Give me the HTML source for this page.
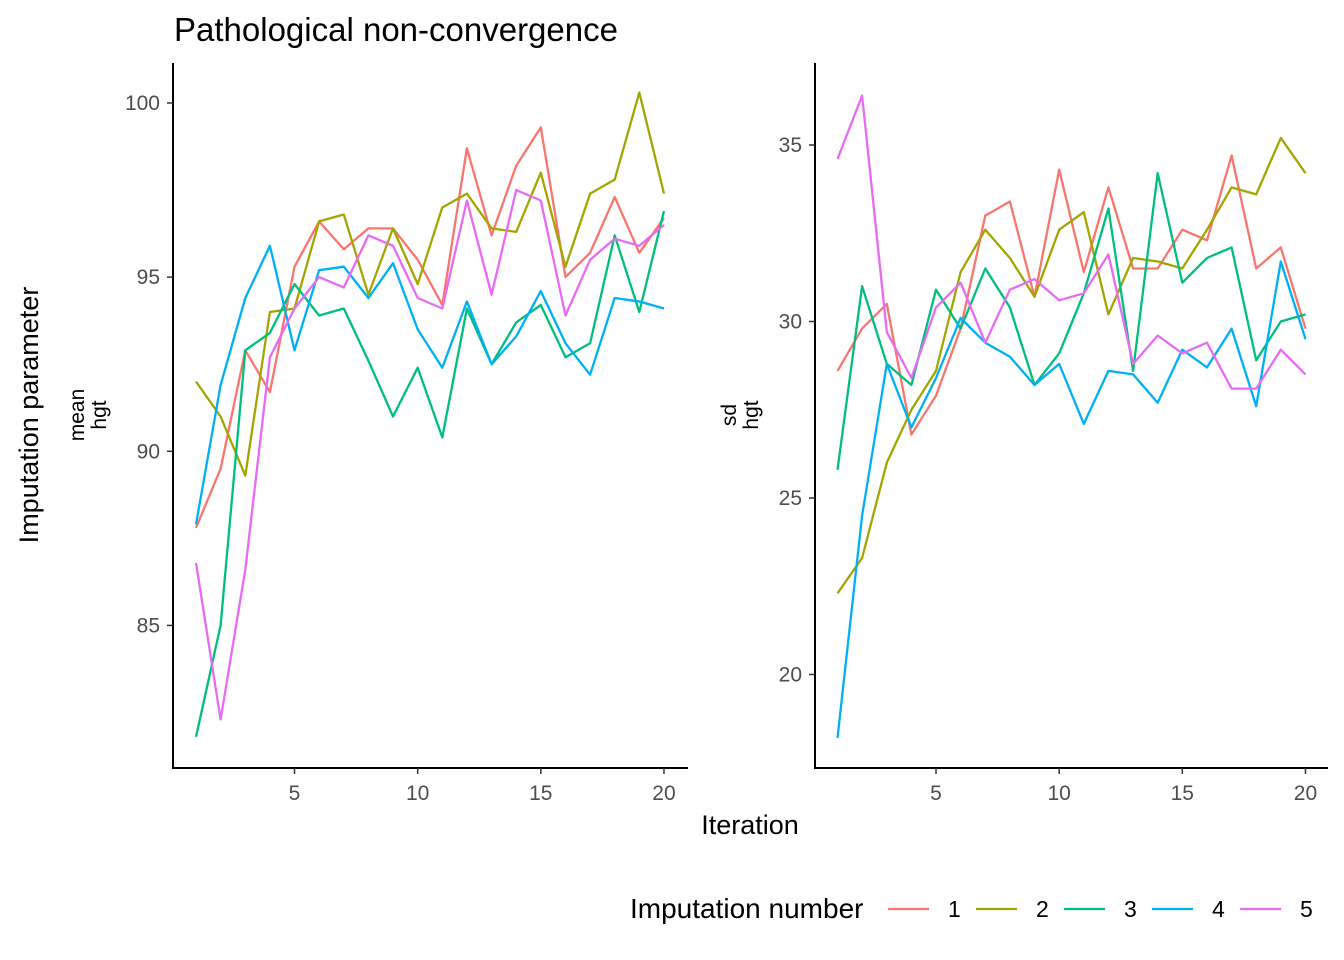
<!DOCTYPE html>
<html><head><meta charset="utf-8"><style>
body{margin:0;background:#fff;}
svg{display:block;font-family:"Liberation Sans",sans-serif;}
</style></head><body>
<svg id="chart" width="1344" height="960">
<text x="174" y="41" font-size="33" fill="#000">Pathological non-convergence</text>
<text transform="translate(38,415) rotate(-90)" text-anchor="middle" font-size="27" fill="#000">Imputation parameter</text>
<text x="750" y="834" text-anchor="middle" font-size="27" fill="#000">Iteration</text>
<g transform="translate(84,415) rotate(-90)"><text text-anchor="middle" font-size="21" y="0">mean</text><text text-anchor="middle" font-size="21" y="22">hgt</text></g>
<g transform="translate(736,415) rotate(-90)"><text text-anchor="middle" font-size="21" y="0">sd</text><text text-anchor="middle" font-size="21" y="22">hgt</text></g>
<g id="panels"></g>
<g id="legend">
<text x="630" y="918" font-size="28" fill="#000">Imputation number</text>
</g>
</svg>
<script>
const iterations=[1,2,3,4,5,6,7,8,9,10,11,12,13,14,15,16,17,18,19,20];
const seriesNames=["1","2","3","4","5"];
const colors=["#F8766D","#A3A500","#00BF7D","#00B0F6","#E76BF3"];
const mean1=[87.8,89.5,92.9,91.7,95.3,96.6,95.8,96.4,96.4,95.5,94.2,98.7,96.2,98.2,99.3,95.0,95.7,97.3,95.7,96.7];
const mean2=[92.0,91.0,89.3,94.0,94.1,96.6,96.8,94.5,96.4,94.8,97.0,97.4,96.4,96.3,98.0,95.3,97.4,97.8,100.3,97.4];
const mean3=[81.8,85.0,92.9,93.4,94.8,93.9,94.1,92.6,91.0,92.4,90.4,94.1,92.5,93.7,94.2,92.7,93.1,96.2,94.0,96.9];
const mean4=[87.9,91.9,94.4,95.9,92.9,95.2,95.3,94.4,95.4,93.5,92.4,94.3,92.5,93.3,94.6,93.1,92.2,94.4,94.3,94.1];
const mean5=[86.8,82.3,86.6,92.7,94.1,95.0,94.7,96.2,95.9,94.4,94.1,97.2,94.5,97.5,97.2,93.9,95.5,96.1,95.9,96.5];
const sd1=[28.6,29.8,30.5,26.8,27.9,29.8,33.0,33.4,30.7,34.3,31.4,33.8,31.5,31.5,32.6,32.3,34.7,31.5,32.1,29.8];
const sd2=[22.3,23.3,26.0,27.5,28.6,31.4,32.6,31.8,30.7,32.6,33.1,30.2,31.8,31.7,31.5,32.6,33.8,33.6,35.2,34.2];
const sd3=[25.8,31.0,28.8,28.2,30.9,29.8,31.5,30.4,28.2,29.1,30.8,33.2,28.6,34.2,31.1,31.8,32.1,28.9,30.0,30.2];
const sd4=[18.2,24.5,28.8,27.0,28.4,30.1,29.4,29.0,28.2,28.8,27.1,28.6,28.5,27.7,29.2,28.7,29.8,27.6,31.7,29.5];
const sd5=[34.6,36.4,29.7,28.4,30.4,31.1,29.4,30.9,31.2,30.6,30.8,31.9,28.8,29.6,29.1,29.4,28.1,28.1,29.2,28.5];
const meanTicks=[85,90,95,100];
const sdTicks=[20,25,30,35];
const xTicks=[5,10,15,20];

const NS="http://www.w3.org/2000/svg";
const root=document.getElementById('panels');
function mk(tag,attrs,parent){const e=document.createElementNS(NS,tag);for(const k in attrs)e.setAttribute(k,attrs[k]);parent.appendChild(e);return e;}

function panel(name,axisX,axisRight,x0,yRef,vRef,pxPerUnit,ticks,data){
  const g=mk('g',{},root);
  
  
  const xs=i=>x0+(i-1)*24.63;
  const ys=v=>yRef+(vRef-v)*pxPerUnit;
  const ya=mk('line',{x1:axisX,y1:63,x2:axisX,y2:768.5,stroke:'#000','stroke-width':2},g);
  
  
  const xa=mk('line',{x1:axisX-1,y1:768,x2:axisRight,y2:768,stroke:'#000','stroke-width':2},g);
  
  
  ticks.forEach(t=>{
    const y=ys(t);
    mk('line',{x1:axisX-6,y1:y,x2:axisX,y2:y,stroke:'#333','stroke-width':1.5},g);
    const tx=mk('text',{x:axisX-13,y:y+7,'text-anchor':'end','font-size':21,fill:'#4d4d4d'},g);
    tx.textContent=t;
    
    
  });
  xTicks.forEach(t=>{
    const x=xs(t);
    mk('line',{x1:x,y1:768,x2:x,y2:774,stroke:'#333','stroke-width':1.5},g);
    const tx=mk('text',{x:x,y:800,'text-anchor':'middle','font-size':21,fill:'#4d4d4d'},g);
    tx.textContent=t;
    
    
  });
  data.forEach((arr,k)=>{
    const pts=arr.map((v,i)=>xs(iterations[i]).toFixed(1)+','+ys(v).toFixed(1)).join(' ');
    const pl=mk('polyline',{points:pts,fill:'none',stroke:colors[k],'stroke-width':2.3,'stroke-linejoin':'round'},g);
    
    
  });
}
panel('mean',173,688,196,103,100,34.83,meanTicks,[mean1,mean2,mean3,mean4,mean5]);
panel('sd',815,1328,837.5,145,35,35.3,sdTicks,[sd1,sd2,sd3,sd4,sd5]);

const lg=document.getElementById('legend');
const lx=[888,976,1064,1152,1240];
seriesNames.forEach((s,k)=>{
  const it=mk('g',{},lg);
  
  
  mk('line',{x1:lx[k],y1:909,x2:lx[k]+41,y2:909,stroke:colors[k],'stroke-width':2.3},it);
  const t=mk('text',{x:lx[k]+60,y:917,'font-size':23,fill:'#000'},it);
  t.textContent=s;
});
</script>
</body></html>
